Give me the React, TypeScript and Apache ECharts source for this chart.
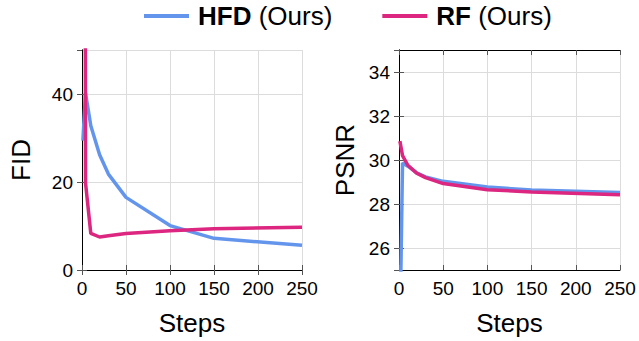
import React, { useEffect, useRef } from "react";
import * as echarts from "echarts";

const steps = [1, 4, 10, 20, 30, 50, 100, 150, 250];
const hfdFid = [29.4, 40.2, 32.8, 26.2, 21.8, 16.5, 10.1, 7.2, 5.6];
const rfFid = [600, 19.8, 8.3, 7.5, 7.8, 8.3, 8.9, 9.4, 9.7];
const hfdPsnr = [22, 29.86, 29.72, 29.42, 29.23, 29.03, 28.77, 28.64, 28.52];
const rfPsnr = [30.86, 30.2, 29.76, 29.4, 29.2, 28.93, 28.65, 28.55, 28.42];

const xTicks = { min: 0, max: 250, interval: 50 };
const fidRange = { min: 0, max: 50, interval: 20 };
const psnrRange = { min: 25, max: 35 };

const seriesNames = ["HFD", "RF"];
const colors = ["#6495ED", "#DC267F"];

const FONT = "'Liberation Sans', Arial, Helvetica, sans-serif";

function pairs(xs: number[], ys: number[]) {
  return xs.map((x, i) => [x, ys[i]]);
}

export default function App() {
  const ref = useRef<HTMLDivElement>(null);
  useEffect(() => {
    if (!ref.current) return;
    const chart = echarts.init(ref.current, null, { renderer: "svg" });
    const tickStyle = { show: true, inside: true, length: 5, lineStyle: { color: "#555", width: 1 } };
    const frameLine = { show: true, lineStyle: { color: "#000", width: 1 } };
    const split = { show: true, lineStyle: { color: "#dcdcdc", width: 1 } };
    const label = { fontSize: 19, color: "#000", fontFamily: FONT };
    const nameStyle = { fontSize: 26, color: "#000", fontFamily: FONT };

    const xAxisMain = (gridIndex: number) => ({
      type: "value",
      gridIndex,
      position: "bottom",
      ...xTicks,
      name: "Steps",
      nameLocation: "middle",
      nameGap: 40,
      nameTextStyle: nameStyle,
      axisLine: frameLine,
      axisTick: tickStyle,
      axisLabel: { ...label, margin: 9 },
      splitLine: split,
    });
    const xAxisTop = (gridIndex: number) => ({
      type: "value",
      gridIndex,
      position: "top",
      ...xTicks,
      axisLine: frameLine,
      axisTick: tickStyle,
      axisLabel: { show: false },
      splitLine: { show: false },
    });

    const option: any = {
      animation: false,
      textStyle: { fontFamily: FONT },
      legend: {
        data: seriesNames,
        left: 144,
        top: 3,
        padding: 0,
        icon: "rect",
        itemWidth: 45,
        itemHeight: 4,
        itemGap: 50,
        formatter: (n: string) => `{b|${n}}{n| (Ours)}`,
        textStyle: {
          padding: [0, 0, 0, 4],
          rich: {
            b: { fontSize: 26, fontWeight: "bold", color: "#000", fontFamily: FONT },
            n: { fontSize: 26, color: "#000", fontFamily: FONT },
          },
        },
      },
      grid: [
        { left: 82, right: 337, top: 50, bottom: 71 },
        { left: 399, right: 19, top: 50, bottom: 71 },
      ],
      xAxis: [xAxisMain(0), xAxisTop(0), xAxisMain(1), xAxisTop(1)],
      yAxis: [
        {
          type: "value",
          gridIndex: 0,
          position: "left",
          ...fidRange,
          name: "FID",
          nameLocation: "middle",
          nameGap: 48,
          nameTextStyle: nameStyle,
          axisLine: frameLine,
          axisTick: tickStyle,
          axisLabel: { ...label, margin: 9, showMaxLabel: false },
          splitLine: split,
        },
        {
          type: "value",
          gridIndex: 0,
          position: "right",
          ...fidRange,
          axisLine: frameLine,
          axisTick: tickStyle,
          axisLabel: { show: false },
          splitLine: { show: false },
        },
        {
          type: "value",
          gridIndex: 1,
          position: "left",
          ...psnrRange,
          splitNumber: 5,
          name: "PSNR",
          nameLocation: "middle",
          nameGap: 41,
          nameTextStyle: nameStyle,
          axisLine: frameLine,
          axisTick: tickStyle,
          axisLabel: { ...label, margin: 9, showMaxLabel: false, showMinLabel: false },
          splitLine: split,
        },
        {
          type: "value",
          gridIndex: 1,
          position: "right",
          ...psnrRange,
          splitNumber: 5,
          axisLine: frameLine,
          axisTick: tickStyle,
          axisLabel: { show: false },
          splitLine: { show: false },
        },
      ],
      series: [
        {
          name: seriesNames[0],
          type: "line",
          xAxisIndex: 0,
          yAxisIndex: 0,
          data: pairs(steps, hfdFid),
          showSymbol: false,
          lineStyle: { color: colors[0], width: 3.5 },
          itemStyle: { color: colors[0] },
          z: 3,
        },
        {
          name: seriesNames[1],
          type: "line",
          xAxisIndex: 0,
          yAxisIndex: 0,
          data: pairs(steps, rfFid),
          showSymbol: false,
          lineStyle: { color: colors[1], width: 3.5 },
          itemStyle: { color: colors[1] },
          z: 4,
        },
        {
          name: seriesNames[0],
          type: "line",
          xAxisIndex: 2,
          yAxisIndex: 2,
          data: pairs(steps, hfdPsnr),
          showSymbol: false,
          lineStyle: { color: colors[0], width: 3.5 },
          itemStyle: { color: colors[0] },
          z: 3,
        },
        {
          name: seriesNames[1],
          type: "line",
          xAxisIndex: 2,
          yAxisIndex: 2,
          data: pairs(steps, rfPsnr),
          showSymbol: false,
          lineStyle: { color: colors[1], width: 3.5 },
          itemStyle: { color: colors[1] },
          z: 4,
        },
      ],
    };
    chart.setOption(option);
    return () => chart.dispose();
  }, []);
  return <div ref={ref} style={{ width: 639, height: 341, position: "absolute", left: 0, top: 0 }} />;
}
